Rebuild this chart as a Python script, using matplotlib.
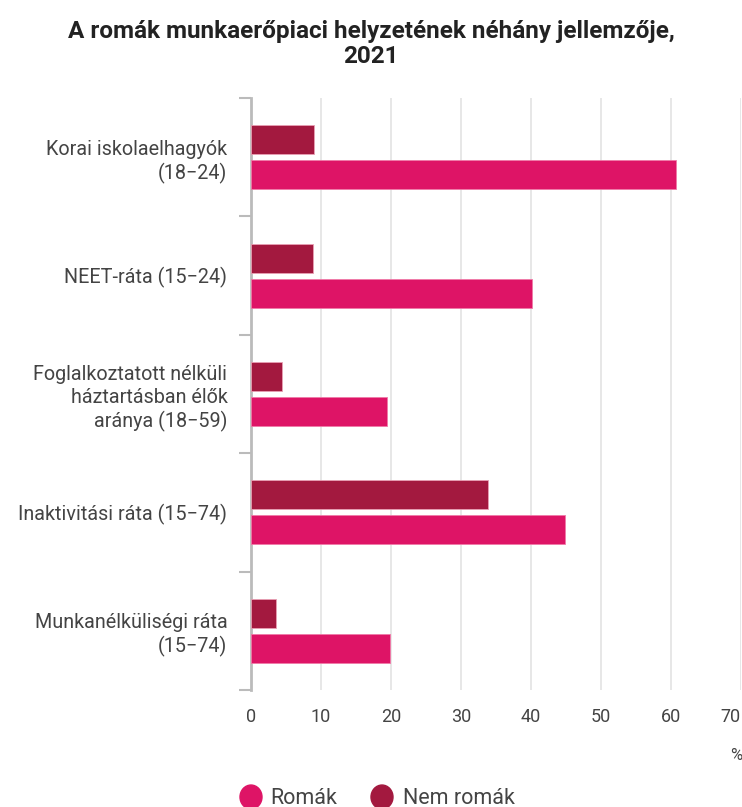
import numpy as np
import matplotlib.pyplot as plt

plt.rcParams['font.family'] = ['Roboto', 'DejaVu Sans']

categories = ['Korai iskolaelhagyók\n(18−24)',
              'NEET-ráta (15−24)',
              'Foglalkoztatott nélküli\nháztartásban élők\naránya (18−59)',
              'Inaktivitási ráta (15−74)',
              'Munkanélküliségi ráta\n(15−74)']
romak = [60.7, 40.2, 19.4, 44.9, 19.8]
nem_romak = [9.0, 8.8, 4.4, 33.9, 3.5]
series_names = ['Romák', 'Nem romák']
ticks = [0, 10, 20, 30, 40, 50, 60, 70]

pink = '#de1466'
dark = '#a3193f'
text_c = '#444444'

W, H = 742, 807
fig = plt.figure(figsize=(W / 100, H / 100), dpi=100)
ax = fig.add_axes([251 / W, 1 - 690 / H, 490 / W, (690 - 98) / H])

y = np.arange(len(categories))
h = 0.246
off = 0.148
ax.barh(y - off, nem_romak, height=h, color=dark, edgecolor='#e8a0b4', linewidth=0.6, zorder=3)
ax.barh(y + off, romak, height=h, color=pink, edgecolor='#f07aa8', linewidth=0.6, zorder=3)

ax.set_xlim(0, 70)
ax.set_ylim(len(categories) - 0.5, -0.5)
ax.set_xticks(ticks)
ax.set_xticklabels([str(t) for t in ticks])
ax.tick_params(axis='x', length=0, pad=13, labelsize=13, labelcolor=text_c)
# last label is pushed inside the figure, as in the original
ax.get_xticklabels()[-1].set_horizontalalignment('right')
for t in ticks[1:]:
    ax.axvline(t, color='#e3e3e3', linewidth=1.2, zorder=1)

ax.set_yticks(y)
ax.set_yticklabels(categories, fontsize=14.2, color=text_c, ha='right', linespacing=1.25)
ax.tick_params(axis='y', which='major', length=0, pad=17)
ax.set_yticks(np.arange(len(categories) + 1) - 0.5, minor=True)
ax.tick_params(axis='y', which='minor', length=9, width=1.5, color='#bbbbbb')

for s in ['top', 'right', 'bottom']:
    ax.spines[s].set_visible(False)
ax.spines['left'].set_color('#bbbbbb')
ax.spines['left'].set_linewidth(2)

fig.text(736 / W, 1 - 756 / H, '%', fontsize=12, color=text_c, ha='center', va='center')

fig.text(0.5, 1 - 44 / H, 'A romák munkaerőpiaci helyzetének néhány jellemzője,\n2021',
         fontsize=17.5, fontweight='bold', color='#222222', ha='center', va='center',
         linespacing=1.15)

# legend
for x0, tx, name, c in [(251, 270, series_names[0], pink), (382, 403, series_names[1], dark)]:
    fig.patches.append(plt.Circle((x0 / W, 1 - 797 / H), 11 / W, transform=fig.transFigure,
                                  color=c, figure=fig))
    fig.text(tx / W, 1 - 798 / H, name, fontsize=15.5, color=text_c,
             ha='left', va='center')

fig.savefig('out.png', dpi=100)
